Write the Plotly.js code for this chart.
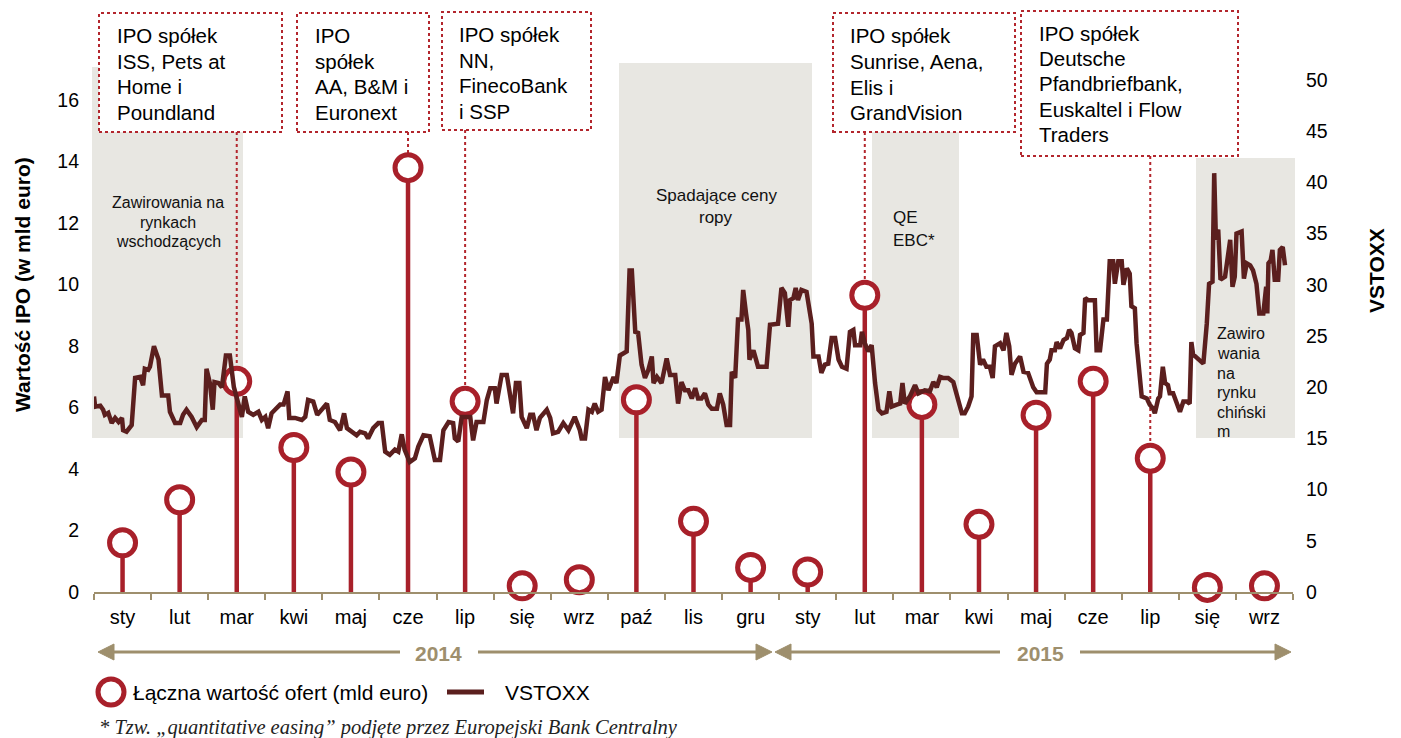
<!DOCTYPE html>
<html><head><meta charset="utf-8">
<script src="https://cdn.plot.ly/plotly-3.0.1.min.js"></script>
<style>html,body{margin:0;padding:0;background:#fff;} #chart{width:1401px;height:738px;}</style>
</head><body><div id="chart"></div>
<script>
// ---- data ----
const months = ['sty','lut','mar','kwi','maj','cze','lip','się','wrz','paź','lis','gru','sty','lut','mar','kwi','maj','cze','lip','się','wrz'];
const ipoValues = [1.6,3.0,6.85,4.7,3.9,13.8,6.2,0.2,0.4,6.25,2.3,0.8,0.65,9.65,6.1,2.2,5.75,6.85,4.35,0.15,0.2];
const years = ['2014','2015'];
// VSTOXX: position in months since 1 Jan 2014, and index level
const vstoxxMonth = [0.00,0.02,0.11,0.16,0.19,0.25,0.31,0.37,0.43,0.49,0.51,0.57,0.66,0.72,0.81,0.86,0.89,0.95,0.98,1.05,1.13,1.19,1.30,1.33,1.42,1.51,1.56,1.62,1.71,1.80,1.89,1.94,1.97,2.03,2.08,2.11,2.18,2.24,2.31,2.38,2.45,2.59,2.64,2.70,2.79,2.88,2.94,3.00,3.05,3.11,3.17,3.26,3.32,3.39,3.42,3.52,3.64,3.70,3.75,3.84,3.91,3.99,4.08,4.13,4.22,4.31,4.38,4.43,4.51,4.60,4.66,4.75,4.80,4.89,4.98,5.04,5.10,5.18,5.27,5.33,5.39,5.44,5.53,5.62,5.68,5.77,5.88,5.97,6.06,6.12,6.21,6.29,6.32,6.38,6.44,6.59,6.64,6.70,6.82,6.88,6.94,7.02,7.05,7.14,7.23,7.29,7.34,7.39,7.45,7.49,7.58,7.64,7.69,7.75,7.81,7.93,7.99,8.04,8.13,8.22,8.31,8.42,8.51,8.54,8.60,8.66,8.72,8.77,8.83,8.89,8.95,9.01,9.10,9.15,9.21,9.33,9.38,9.42,9.48,9.53,9.59,9.65,9.71,9.77,9.80,9.86,9.94,10.03,10.09,10.18,10.23,10.29,10.35,10.41,10.47,10.53,10.58,10.64,10.70,10.76,10.82,10.91,10.96,11.02,11.08,11.14,11.17,11.23,11.28,11.34,11.37,11.42,11.46,11.48,11.55,11.63,11.78,11.84,11.98,12.04,12.10,12.16,12.19,12.25,12.29,12.33,12.39,12.48,12.57,12.60,12.69,12.74,12.80,12.86,12.92,12.98,13.04,13.10,13.18,13.24,13.30,13.33,13.42,13.45,13.50,13.56,13.62,13.68,13.74,13.80,13.88,13.93,13.97,14.06,14.12,14.16,14.20,14.29,14.38,14.44,14.55,14.64,14.70,14.76,14.82,14.87,14.96,15.05,15.11,15.20,15.25,15.31,15.37,15.40,15.46,15.52,15.57,15.63,15.69,15.74,15.78,15.87,15.93,15.98,16.03,16.07,16.13,16.22,16.28,16.36,16.45,16.51,16.66,16.69,16.74,16.77,16.83,16.86,16.92,16.98,17.04,17.08,17.12,17.18,17.24,17.27,17.33,17.36,17.41,17.53,17.56,17.62,17.68,17.74,17.79,17.85,17.88,17.94,18.00,18.03,18.09,18.14,18.17,18.23,18.26,18.32,18.35,18.44,18.49,18.55,18.58,18.64,18.67,18.72,18.76,18.81,18.84,18.90,18.96,19.02,19.08,19.14,19.19,19.22,19.25,19.34,19.43,19.49,19.53,19.59,19.62,19.65,19.69,19.73,19.81,19.90,19.94,19.98,20.01,20.10,20.14,20.19,20.25,20.30,20.36,20.41,20.48,20.53,20.55,20.57,20.61,20.64,20.68,20.74,20.77,20.82,20.86];
const vstoxxValue = [19.1,18.1,18.2,17.8,17.3,17.5,16.5,17.0,16.6,17.0,15.8,15.65,16.3,20.9,21.0,20.2,21.8,21.7,22.0,24.0,22.7,19.2,19.2,17.6,16.5,16.5,17.3,17.8,17.1,16.1,16.8,16.8,21.8,20.4,17.8,20.5,20.4,20.0,23.1,23.1,20.0,17.1,19.1,17.6,17.3,17.6,16.8,17.1,16.0,17.45,17.8,18.3,18.3,19.6,17.0,17.0,16.8,17.1,18.75,18.6,17.3,17.8,18.4,16.8,16.6,15.8,17.45,16.0,15.65,15.3,15.65,15.5,15.0,16.0,16.5,16.5,13.7,13.4,13.9,13.7,15.4,13.9,12.7,13.05,14.2,15.3,15.2,12.9,12.9,15.8,16.6,16.5,15.0,14.7,17.1,17.1,14.8,16.6,16.6,18.75,19.9,19.9,18.4,21.2,21.2,19.4,17.45,20.4,20.4,17.1,16.0,17.3,17.3,15.8,17.0,17.8,17.0,15.5,15.65,16.5,15.8,17.1,15.8,15.0,15.0,17.8,17.6,18.4,17.6,17.8,21.0,19.7,21.0,20.4,23.1,23.5,31.4,31.4,25.4,25.3,22.2,20.9,21.7,23.0,20.4,21.0,20.4,22.8,21.2,21.2,18.4,20.5,19.7,19.7,18.9,19.9,18.9,18.9,19.4,18.3,17.9,17.9,19.4,18.3,16.3,16.3,21.5,20.9,26.6,26.6,29.5,27.2,25.6,22.7,23.6,22.0,22.0,26.1,26.2,29.7,29.2,25.9,28.5,28.7,29.7,28.5,29.5,29.3,26.2,23.0,23.0,21.4,22.2,22.3,24.8,24.8,22.7,22.0,21.8,25.4,25.6,24.1,24.1,25.4,24.3,23.5,24.1,20.4,17.8,17.45,17.6,19.6,18.1,18.3,18.4,20.4,18.4,19.1,20.2,19.4,19.7,19.6,20.5,20.0,21.0,20.9,20.9,20.5,19.1,17.45,17.45,18.1,19.1,25.1,25.1,22.2,22.7,22.0,22.0,20.9,24.0,24.3,23.6,25.3,24.0,21.2,22.3,23.0,21.5,21.4,20.0,19.5,19.5,22.3,22.7,23.6,23.6,24.4,23.8,24.6,24.8,25.6,25.3,23.8,23.6,25.1,25.3,28.7,28.5,28.5,23.6,23.6,26.6,26.6,32.3,32.3,30.1,32.3,32.3,30.0,31.6,31.1,27.9,27.7,24.3,21.4,19.1,18.9,18.3,17.9,17.45,18.9,19.1,22.0,20.4,20.2,19.4,19.4,18.4,17.6,18.6,18.6,18.4,24.4,23.2,22.7,22.3,26.2,30.1,30.3,40.9,34.4,35.4,30.5,30.8,34.4,29.8,30.8,35.0,35.2,30.6,32.1,31.9,31.4,30.1,27.2,27.2,29.8,27.2,32.1,32.4,33.4,30.5,30.5,33.4,33.7,31.9];
const shadeLabels = [['Zawirowania na','rynkach','wschodzących'],['Spadające ceny','ropy'],['QE','EBC*'],['Zawiro','wania','na','rynku','chiński','m']];
const boxTexts = [
  ['IPO spółek','ISS, Pets at','Home i','Poundland'],
  ['IPO','spółek','AA, B&amp;M i','Euronext'],
  ['IPO spółek','NN,','FinecoBank','i SSP'],
  ['IPO spółek','Sunrise, Aena,','Elis i','GrandVision'],
  ['IPO spółek','Deutsche','Pfandbriefbank,','Euskaltel i Flow','Traders']
];
const boxMonthIndex = [2,5,6,13,18];
const legendNames = ['Łączna wartość ofert (mld euro)','VSTOXX'];
const footnote = '* Tzw. „quantitative easing” podjęte przez Europejski Bank Centralny';

// ---- geometry helpers (pixels -> paper) ----
const L=94,R=1293,T=80,B=592;
const px = x => (x-L)/(R-L);
const py = y => (B-y)/(B-T);
const yLeftMax = 16.65;
const pyVal = y => (B-y)/(B-T)*yLeftMax; // pixel -> left axis value

const RED='#a8202a', DARK='#5b1f1e', TAN='#9e8f6d', SHADE='#e8e7e2', DOT='#b3262d';
const FONT='Liberation Sans, Arial, sans-serif';

const shapes=[], annotations=[];
function ann(text,x,y,o){annotations.push(Object.assign({text:text,x:px(x),y:py(y),xref:'paper',yref:'paper',showarrow:false,xanchor:'left',yanchor:'middle',font:{family:FONT,size:20,color:'#000'}},o||{}));}
function rectPx(x0,y0,x1,y1,o){shapes.push(Object.assign({type:'rect',xref:'paper',yref:'paper',x0:px(x0),x1:px(x1),y0:py(y1),y1:py(y0),layer:'below'},o));}

// shaded periods
rectPx(92,67,243,438,{fillcolor:SHADE,line:{width:0}});
rectPx(619,63,812,438,{fillcolor:SHADE,line:{width:0}});
rectPx(872,130,959,438,{fillcolor:SHADE,line:{width:0}});
rectPx(1196,158,1295,438,{fillcolor:SHADE,line:{width:0}});

// shade labels
const shFont={family:FONT,size:16,color:'#111'};
shadeLabels[0].forEach((t,i)=>ann(t,168,[202,222,241][i],{xanchor:'center',font:shFont}));
shadeLabels[1].forEach((t,i)=>ann(t,716,[195,217][i],{xanchor:'center',font:{family:FONT,size:17,color:'#111'}}));
shadeLabels[2].forEach((t,i)=>ann(t,891,[217,240][i],{font:{family:FONT,size:17,color:'#111'}}));
shadeLabels[3].forEach((t,i)=>ann(t,1215,[333,353,373,392,412,431][i],{font:shFont}));

// callout boxes
const boxes=[[99,13,282,132,115],[297,13,429,132,313],[442,12,591,130,457],[833,13,1015,132,848],[1021,11,1238,156,1037]];
const lineYs=[[35,61,86,112],[35,61,86,112],[34,60,85,111],[35,61,87,112],[33,58,83,109,134]];
boxes.forEach((b,k)=>{
  const mi=boxMonthIndex[k];
  shapes.push({type:'line',xref:'x',yref:'y',x0:mi+0.5,x1:mi+0.5,y0:pyVal(b[3]),y1:ipoValues[mi],line:{color:DOT,width:2,dash:'dot'},layer:'below'});
  rectPx(b[0],b[1],b[2],b[3],{fillcolor:'#fff',line:{color:DOT,width:2,dash:'dot'},layer:'above'});
  boxTexts[k].forEach((t,i)=>ann(t,b[4],lineYs[k][i],{font:{family:FONT,size:20.5,color:'#000'}}));
});

// year arrows
const AY=652;
function hline(x0,x1){shapes.push({type:'line',xref:'paper',yref:'paper',x0:px(x0),x1:px(x1),y0:py(AY),y1:py(AY),line:{color:TAN,width:3}});}
function tri(tip,dir){const bx=tip-dir*16;shapes.push({type:'path',xref:'paper',yref:'paper',path:`M ${px(tip)} ${py(AY)} L ${px(bx)} ${py(AY-8)} L ${px(bx)} ${py(AY+8)} Z`,fillcolor:TAN,line:{color:TAN,width:1}});}
tri(98,-1);hline(112,400);hline(478,758);tri(772,1);
tri(775,-1);hline(790,1000);hline(1080,1277);tri(1291,1);
ann('<b>'+years[0]+'</b>',438,AY+1,{xanchor:'center',font:{family:FONT,size:21,color:TAN}});
ann('<b>'+years[1]+'</b>',1040,AY+1,{xanchor:'center',font:{family:FONT,size:21,color:TAN}});

// custom legend
shapes.push({type:'circle',xref:'paper',yref:'paper',x0:px(98),x1:px(124),y0:py(705),y1:py(679),fillcolor:'#fff',line:{color:RED,width:5}});
shapes.push({type:'line',xref:'paper',yref:'paper',x0:px(447),x1:px(484),y0:py(692),y1:py(692),line:{color:DARK,width:5}});
ann(legendNames[0],131,692,{font:{family:FONT,size:21,color:'#000'}});
ann(legendNames[1],503,692,{font:{family:FONT,size:21,color:'#000'}});

// footnote
ann('<i>'+footnote+'</i>',97,727,{font:{family:'Liberation Serif, Times New Roman, serif',size:20.5,color:'#222'}});

// axis titles
ann('<b>Wartość IPO (w mld euro)</b>',22,285,{xanchor:'center',textangle:-90,font:{family:FONT,size:21,color:'#000'}});
ann('<b>VSTOXX</b>',1376,271,{xanchor:'center',textangle:-90,font:{family:FONT,size:21,color:'#000'}});

const traces=[
  {x:vstoxxMonth,y:vstoxxValue,yaxis:'y2',type:'scatter',mode:'lines',line:{color:DARK,width:4.5},hoverinfo:'skip',showlegend:false},
  {x:months.map((_,i)=>i+0.5),y:ipoValues,type:'scatter',mode:'markers',cliponaxis:false,showlegend:false,
   marker:{size:26,color:'#fff',line:{color:RED,width:5}},
   error_y:{type:'data',symmetric:false,array:ipoValues.map(()=>0),arrayminus:ipoValues,color:RED,thickness:4.5,width:0}}
];

const layout={
  width:1401,height:738,margin:{l:L,r:1401-R,t:T,b:738-B,pad:0},
  paper_bgcolor:'#fff',plot_bgcolor:'rgba(0,0,0,0)',showlegend:false,
  font:{family:FONT,color:'#000'},
  xaxis:{range:[0,21],tickvals:months.map((_,i)=>i+0.5),ticktext:months,ticks:'',showgrid:false,zeroline:false,
    showline:true,linecolor:TAN,linewidth:2,tickfont:{size:20,color:'#000'},ticklabelstandoff:6,
    minor:{tickvals:months.map((_,i)=>i).concat([21]),ticks:'outside',ticklen:6,tickwidth:2,tickcolor:TAN,showgrid:false}},
  yaxis:{range:[0,yLeftMax],tickvals:[0,2,4,6,8,10,12,14,16],showgrid:false,zeroline:false,showline:false,ticks:'',
    tickfont:{size:19.5,color:'#000'},ticklabelstandoff:14},
  yaxis2:{range:[0,50],dtick:5,overlaying:'y',side:'right',showgrid:false,zeroline:false,showline:false,ticks:'',
    tickfont:{size:19.5,color:'#000'},ticklabelstandoff:12},
  shapes:shapes,annotations:annotations
};
Plotly.newPlot('chart',traces,layout,{displayModeBar:false,staticPlot:true});
</script></body></html>
